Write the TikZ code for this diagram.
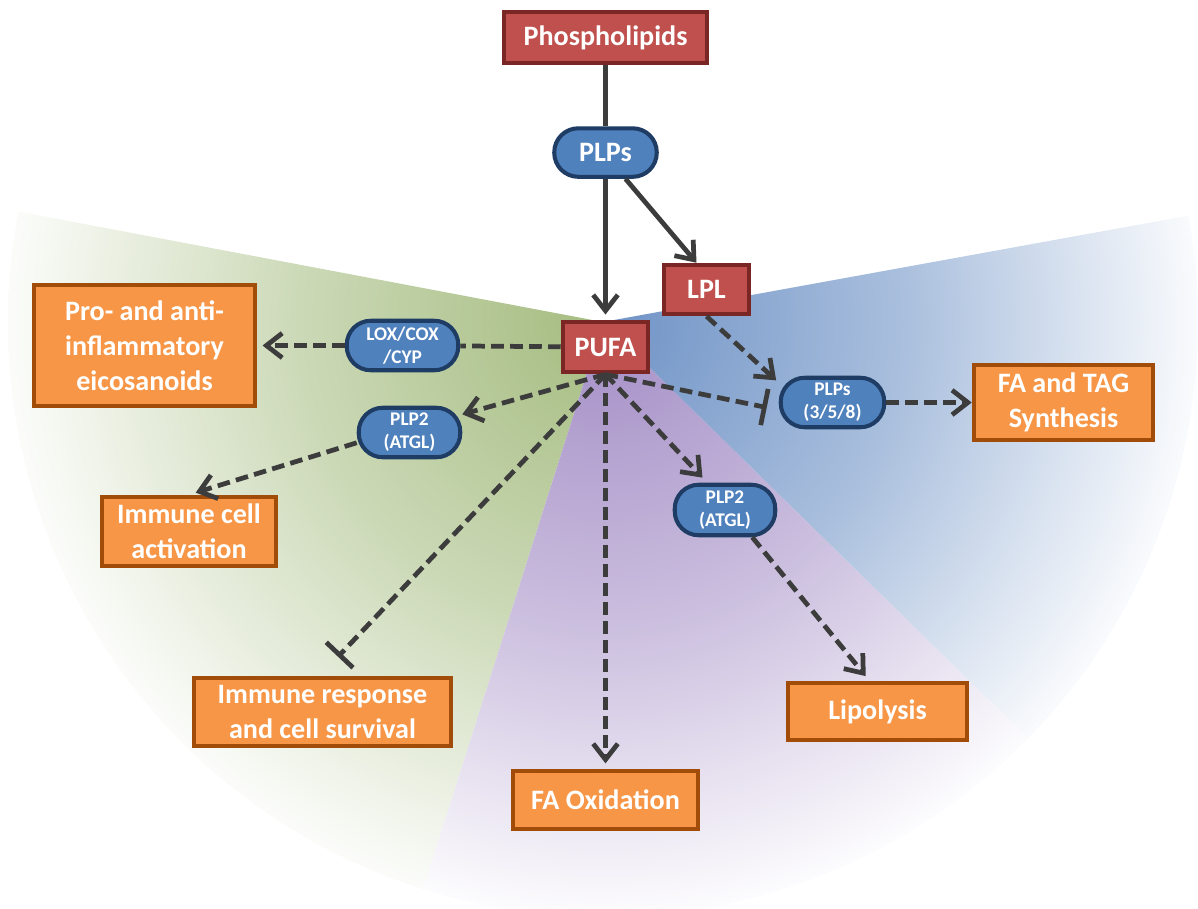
\documentclass[tikz,border=0pt]{standalone}
\usepackage{fontspec}
\setmainfont{Carlito}
\usetikzlibrary{arrows.meta, positioning, calc}
\definecolor{lipfill}{HTML}{C0504D}
\definecolor{lipdraw}{HTML}{7A2624}
\definecolor{enzfill}{HTML}{4F81BD}
\definecolor{enzdraw}{HTML}{1E3C64}
\definecolor{resfill}{HTML}{F79646}
\definecolor{resdraw}{HTML}{A24C0A}
\definecolor{arrgray}{HTML}{3C3C3C}
\definecolor{wgreen}{HTML}{A5BC80}
\definecolor{wblue}{HTML}{6F93C6}
\definecolor{wpurple}{HTML}{A48EC6}
\colorlet{wgreenmid}{wgreen!58!white}
\colorlet{wbluemid}{wblue!60!white}
\colorlet{wpurplemid}{wpurple!58!white}
\colorlet{wgreenend}{wgreen!4!white}
\colorlet{wblueend}{wblue!4!white}
\colorlet{wpurpleend}{wpurple!3!white}
\pgfdeclareradialshading{fangreen}{\pgfpoint{0bp}{0bp}}{color(0bp)=(wgreen); color(12.5bp)=(wgreenmid); color(25bp)=(wgreenend); color(50bp)=(wgreenend)}
\pgfdeclareradialshading{fanblue}{\pgfpoint{0bp}{0bp}}{color(0bp)=(wblue); color(12.5bp)=(wbluemid); color(25bp)=(wblueend); color(50bp)=(wblueend)}
\pgfdeclareradialshading{fanpurple}{\pgfpoint{0bp}{0bp}}{color(0bp)=(wpurple); color(12.5bp)=(wpurplemid); color(25bp)=(wpurpleend); color(50bp)=(wpurpleend)}
\newcommand{\bigtxt}{\fontsize{8}{10}\selectfont\bfseries}
\newcommand{\smalltxt}{\fontsize{5.5}{6.6}\selectfont\bfseries}
\tikzset{
  blk/.style={rectangle, line width=1.15pt, align=center, text=white, font=\bigtxt, inner sep=1pt},
  lip/.style={blk, draw=lipdraw, fill=lipfill},
  enz/.style={blk, draw=enzdraw, fill=enzfill, rounded corners=0.24cm, font=\smalltxt, minimum height=0.495cm},
  res/.style={blk, draw=resdraw, fill=resfill},
  link/.style={line width=1.35pt, draw=arrgray},
  linkdash/.style={link, dash pattern=on 3.6pt off 1.8pt},
  arr/.style={link, -{Straight Barb[length=4.5pt, width=7pt]}},
  arrdash/.style={arr, dash pattern=on 3.6pt off 1.8pt},
  inhdash/.style={linkdash, -{Bar[width=10.5pt]}},
}

\begin{document}
\begin{tikzpicture}
  \useasboundingbox (0,0) rectangle (11.98,9.08);
  % shaded sectors behind the pathway
  \coordinate (ctr) at (6.03,5.86);
  \foreach \wa/\wb/\wc in {169.3/252.4/green, 252.4/315.6/purple, -44.4/10.3/blue} {
    \begin{scope}
      \clip (ctr) -- ++(\wa:5.95) arc[start angle=\wa, end angle=\wb, radius=5.95] -- cycle;
      \shade[shading=fan\wc] (ctr) circle (5.95);
    \end{scope}
  }

  % central column
  \node[lip, minimum width=2.035cm, minimum height=0.515cm] (phos) at (6.055,8.705) {Phospholipids};
  \node[enz, font=\bigtxt, minimum width=1.025cm, minimum height=0.485cm, below=0.61cm of phos] (plp) {PLPs};
  \node[lip, minimum width=0.855cm, minimum height=0.505cm, below=1.41cm of plp] (pufa) {PUFA};
  \node[res, minimum width=1.845cm, minimum height=0.575cm, below=3.95cm of pufa] (faox) {FA Oxidation};
  \node[lip, minimum width=0.855cm, minimum height=0.495cm] (lpl) at (7.065,6.185) {LPL};

  % enzymes
  \node[enz, minimum width=1.115cm] (lox) at (4.025,5.625) {LOX/COX\\/CYP};
  \node[enz, minimum width=1.015cm] (plp2a) at (4.095,4.755) {PLP2\\(ATGL)};
  \node[enz, minimum width=1.005cm, minimum height=0.505cm] (plp2b) at (7.25,3.98) {PLP2\\(ATGL)};
  \node[enz, minimum width=1.035cm] (plps) at (8.325,5.055) {PLPs\\(3/5/8)};

  % outcomes
  \node[res, minimum width=2.215cm, minimum height=1.215cm] (eico) at (1.445,5.625) {Pro- and anti-\\inflammatory\\eicosanoids};
  \node[res, minimum width=1.745cm, minimum height=0.695cm] (icact) at (1.89,3.765) {Immune cell\\activation};
  \node[res, minimum width=2.575cm, minimum height=0.685cm] (irsurv) at (3.225,1.96) {Immune response\\and cell survival};
  \node[res, minimum width=1.795cm, minimum height=0.575cm] (lipo) at (8.775,1.965) {Lipolysis};
  \node[res, minimum width=1.795cm, minimum height=0.755cm] (fatag) at (10.635,5.055) {FA and TAG\\Synthesis};

  \draw[link] (phos) -- (plp);
  \draw[arr, shorten >=1.5pt] (plp) -- (pufa);
  \draw[arr] ([xshift=0.2cm]plp.south) -- ([xshift=-0.1cm]lpl.north);
  \draw[arrdash, shorten >=1pt] (lpl.south) -- ([yshift=-0.07cm]plps.north west);
  \draw[inhdash] (pufa.south) -- ([xshift=-0.12cm,yshift=-0.05cm]plps.west);
  \draw[arrdash] (plps) -- (fatag);
  \draw[linkdash] (pufa) -- (lox);
  \draw[arrdash, shorten >=1.5pt] (lox) -- (eico);
  \draw[arrdash] (pufa.south) -- (plp2a.19);
  \draw[arrdash, shorten >=2pt] (plp2a.191) -- (icact.north);
  \draw[inhdash] (pufa.south) -- ([xshift=0.155cm,yshift=0.19cm]irsurv.north);
  \draw[arrdash, shorten >=1.7pt] (pufa.south) -- (faox.north);
  \draw[arrdash, shorten >=2pt] (pufa.south) -- (plp2b.123);
  \draw[arrdash, shorten >=1.7pt] (plp2b.-45) -- ([xshift=-0.08cm]lipo.north);
\end{tikzpicture}
\end{document}
